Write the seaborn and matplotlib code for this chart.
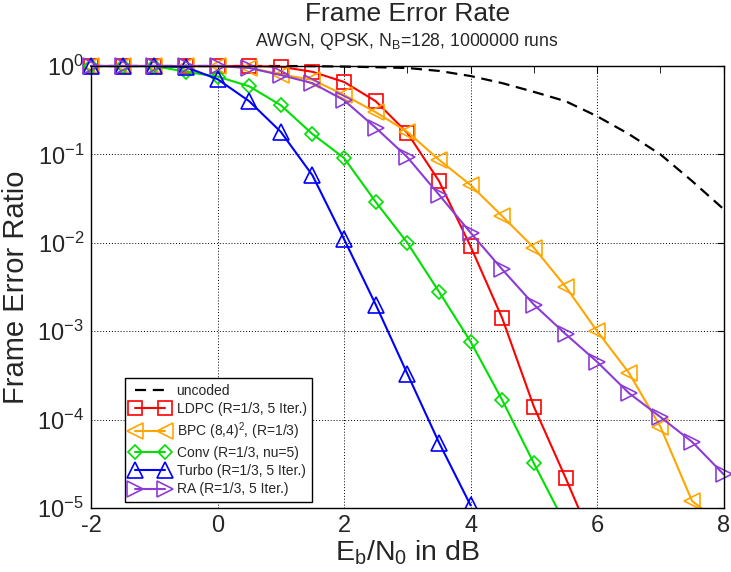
import matplotlib
matplotlib.use("Agg")
import pandas as pd
import matplotlib.pyplot as plt
import seaborn as sns
from matplotlib.ticker import FixedLocator, NullLocator
from matplotlib.transforms import Bbox, TransformedBbox

# Eb/N0 in dB
snr_uncoded = [-2, -1.5, -1, -0.5, 0, 0.5, 1, 1.5, 2, 2.5, 3, 3.5, 4, 4.5, 5, 5.5, 6, 6.5, 7, 7.5, 8]
fer_uncoded = [1.0, 1.0, 1.0, 1.0, 1.0, 1.0, 0.999, 0.997, 0.985, 0.97, 0.95, 0.88, 0.77, 0.64, 0.51,
               0.40, 0.27, 0.17, 0.10, 0.05, 0.024]

snr_ldpc = [-2, -1.5, -1, -0.5, 0, 0.5, 1, 1.5, 2, 2.5, 3, 3.5, 4, 4.5, 5, 5.5, 6]
fer_ldpc = [1.0, 1.0, 1.0, 1.0, 1.0, 1.0, 0.98, 0.86, 0.66, 0.40, 0.175, 0.05, 0.0091, 1.4e-3,
            1.4e-4, 2.2e-5, 3.2e-6]

snr_bpc = [-2, -1.5, -1, -0.5, 0, 0.5, 1, 1.5, 2, 2.5, 3, 3.5, 4, 4.5, 5, 5.5, 6, 6.5, 7, 7.5, 8]
fer_bpc = [1.0, 1.0, 1.0, 1.0, 0.99, 0.96, 0.80, 0.70, 0.47, 0.30, 0.18, 0.087, 0.045, 0.020,
           0.0088, 0.0032, 1.0e-3, 3.4e-4, 8.3e-5, 1.2e-5, 6.3e-6]

snr_conv = [-2, -1.5, -1, -0.5, 0, 0.5, 1, 1.5, 2, 2.5, 3, 3.5, 4, 4.5, 5, 5.5]
fer_conv = [1.0, 1.0, 1.0, 0.86, 0.76, 0.59, 0.36, 0.17, 0.091, 0.029, 0.01, 2.8e-3, 7.6e-4,
            1.66e-4, 3.2e-5, 6.5e-6]

snr_turbo = [-2, -1.5, -1, -0.5, 0, 0.5, 1, 1.5, 2, 2.5, 3, 3.5, 4]
fer_turbo = [1.0, 1.0, 1.0, 0.97, 0.71, 0.40, 0.18, 0.058, 0.011, 0.002, 3.3e-4, 5.5e-5, 1.07e-5]

snr_ra = [-2, -1.5, -1, -0.5, 0, 0.5, 1, 1.5, 2, 2.5, 3, 3.5, 4, 4.5, 5, 5.5, 6, 6.5, 7, 7.5, 8]
fer_ra = [1.0, 1.0, 1.0, 1.0, 1.0, 0.95, 0.79, 0.64, 0.41, 0.20, 0.093, 0.035, 0.013, 0.005,
          0.002, 9.3e-4, 4.5e-4, 2.0e-4, 1.07e-4, 5.6e-5, 2.4e-5]

labels = ["uncoded", "LDPC (R=1/3, 5 Iter.)", r"BPC (8,4)$^{2}$, (R=1/3)",
          "Conv (R=1/3, nu=5)", "Turbo (R=1/3, 5 Iter.)", "RA (R=1/3, 5 Iter.)"]
x_ticks = [-2, 0, 2, 4, 6, 8]
y_ticks = [1e-5, 1e-4, 1e-3, 1e-2, 1e-1, 1e0]
y_ticklabels = [r"$\mathregular{10^{-5}}$", r"$\mathregular{10^{-4}}$", r"$\mathregular{10^{-3}}$",
                r"$\mathregular{10^{-2}}$", r"$\mathregular{10^{-1}}$", r"$\mathregular{10^{0}}$"]

sns.set_style("white")
plt.rcParams["font.family"] = ["Liberation Sans", "DejaVu Sans"]
plt.rcParams["mathtext.fontset"] = "custom"
plt.rcParams["mathtext.rm"] = "Liberation Sans"
plt.rcParams["mathtext.it"] = "Liberation Sans"

fig = plt.figure(figsize=(7.31, 5.72), dpi=100)
ax = fig.add_axes([0.1245, 0.1119, 0.8655, 0.7727])

series = [
    (snr_uncoded, fer_uncoded, "black", None, 0),
    (snr_ldpc, fer_ldpc, "#ff0000", "s", 9.5),
    (snr_bpc, fer_bpc, "#ffa500", "<", 11),
    (snr_conv, fer_conv, "#00e000", "D", 7),
    (snr_turbo, fer_turbo, "#0000ff", "^", 11),
    (snr_ra, fer_ra, "#8c3cd4", ">", 11),
]

for (x, y, color, marker, ms), label in zip(series, labels):
    df = pd.DataFrame({"snr": x, "fer": y})
    if marker is None:
        sns.lineplot(data=df, x="snr", y="fer", ax=ax, color=color, linewidth=1.6,
                     linestyle=(0, (5, 3)), label=label, errorbar=None)
    else:
        sns.lineplot(data=df, x="snr", y="fer", ax=ax, color=color, linewidth=1.5,
                     marker=marker, markersize=ms, markerfacecolor="none",
                     markeredgecolor=color, markeredgewidth=1.2, label=label, errorbar=None)

ax.set_yscale("log")
ax.set_xlim(-2, 8)
ax.set_ylim(1e-5, 1)

# let markers on the border show like in the original, but still clip at the bottom
clip = TransformedBbox(Bbox([[-0.05, 0.0], [1.05, 1.05]]), ax.transAxes)
for line in ax.lines:
    line.set_clip_path(None)
    line.set_clip_box(clip)

ax.xaxis.set_major_locator(FixedLocator(x_ticks))
ax.xaxis.set_minor_locator(FixedLocator([-1, 1, 3, 5, 7]))
ax.set_xticklabels([str(t) for t in x_ticks])
ax.yaxis.set_major_locator(FixedLocator(y_ticks))
ax.yaxis.set_minor_locator(NullLocator())
ax.set_yticklabels(y_ticklabels)
ax.tick_params(which="both", direction="in", top=True, right=True, color="black",
               labelsize=17, length=5)
ax.tick_params(axis="x", pad=5)
ax.tick_params(axis="y", pad=5)

ax.grid(True, which="major", color="black", linestyle=(0, (1, 2)), linewidth=0.7)
for s in ax.spines.values():
    s.set_color("black")
    s.set_linewidth(1.0)

ax.set_xlabel(r"$\mathregular{E_b/N_0}$ in dB", fontsize=20.5)
ax.set_ylabel("Frame Error Ratio", fontsize=21)
ax.xaxis.set_label_coords(0.5, -0.068)
ax.yaxis.set_label_coords(-0.097, 0.5)

fig.text(0.557, 0.975, "Frame Error Rate", ha="center", va="center", fontsize=19)
fig.text(0.557, 0.928, r"AWGN, QPSK, $\mathregular{N_B}$=128, 1000000 runs",
         ha="center", va="center", fontsize=12.7)

handles, labs = ax.get_legend_handles_labels()
leg = ax.legend(handles, labs, loc="lower left", bbox_to_anchor=(0.054, 0.0136),
                borderaxespad=0, numpoints=2, fontsize=10, handlelength=2.8,
                handletextpad=0.5, labelspacing=0.3, fancybox=False, framealpha=1,
                edgecolor="black", borderpad=0.4)
leg.get_frame().set_linewidth(1.0)

fig.savefig("out.png", dpi=100)
